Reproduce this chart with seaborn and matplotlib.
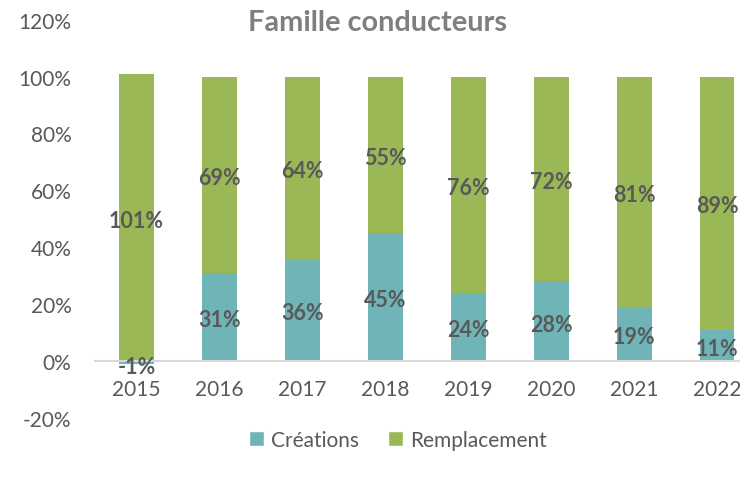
import matplotlib
matplotlib.use("Agg")
import matplotlib.pyplot as plt
import seaborn as sns
import numpy as np
import pandas as pd
from matplotlib.patches import Patch

years = ["2015", "2016", "2017", "2018", "2019", "2020", "2021", "2022"]
creations = [-1, 31, 36, 45, 24, 28, 19, 11]
remplacement = [101, 69, 64, 55, 76, 72, 81, 89]
y_ticks = [-20, 0, 20, 40, 60, 80, 100, 120]
title = "Famille conducteurs"
series_names = ["Créations", "Remplacement"]

teal = "#6FB5B8"
green = "#9BB857"
gray = "#595959"

sns.set_theme(style="white")
plt.rcParams['font.family'] = ['Lato', 'DejaVu Sans']

df = pd.DataFrame({"year": years, "crea": creations, "rempl": remplacement})
df["crea_f"] = df["crea"] / 100.0
df["rempl_f"] = df["rempl"] / 100.0
df["base"] = np.clip(df["crea_f"], 0, None)

fig = plt.figure(figsize=(7.4, 4.81), dpi=100)
ax = fig.add_axes([95 / 740, 1 - 419 / 481, (758.5 - 95) / 740, (419 - 20.6) / 481])

sns.barplot(data=df, x="year", y="crea_f", color=teal, width=0.42, ax=ax,
            saturation=1, linewidth=0)
sns.barplot(data=df, x="year", y="rempl_f", color=green, width=0.42, ax=ax,
            saturation=1, linewidth=0, bottom=df["base"].values)

ax.set_ylim(-0.2, 1.2)
ax.set_xlim(-0.5, len(years) - 0.5)
ax.set_yticks([t / 100 for t in y_ticks])
ax.set_yticklabels([f"{t}%" for t in y_ticks])
ax.set_xlabel("")
ax.set_ylabel("")
for s in ["top", "right", "left"]:
    ax.spines[s].set_visible(False)
ax.spines["bottom"].set_position(("data", 0))
ax.spines["bottom"].set_color("#D9D9D9")
ax.spines["bottom"].set_linewidth(1.5)
ax.tick_params(axis="both", length=0, labelsize=15, labelcolor=gray)
ax.tick_params(axis="x", pad=13)
ax.tick_params(axis="y", pad=17)
ax.grid(False)

for i, (c, r) in enumerate(zip(creations, remplacement)):
    cf = c / 100.0
    rf = r / 100.0
    base = max(cf, 0)
    ax.annotate(f"{c}%", (i, cf / 2), xytext=(0, -2 if c > 0 else -3),
                textcoords="offset points", ha="center", va="center",
                fontsize=15.5, fontweight="bold", color=gray)
    ax.annotate(f"{r}%", (i, base + rf / 2), xytext=(0, -2),
                textcoords="offset points", ha="center", va="center",
                fontsize=15.5, fontweight="bold", color=gray)

fig.text(378 / 740, 1 - 23 / 481, title, ha="center", va="center",
         fontsize=20.8, fontweight="bold", color="#7F7F7F")

handles = [Patch(facecolor=teal, label=series_names[0]),
           Patch(facecolor=green, label=series_names[1])]
fig.legend(handles=handles, loc="center", bbox_to_anchor=(398 / 740, 1 - 441 / 481),
           ncol=2, frameon=False, fontsize=15, labelcolor=gray,
           handlelength=0.7, handleheight=0.7, handletextpad=0.35, columnspacing=1.4)

fig.savefig("out.png", dpi=100)
